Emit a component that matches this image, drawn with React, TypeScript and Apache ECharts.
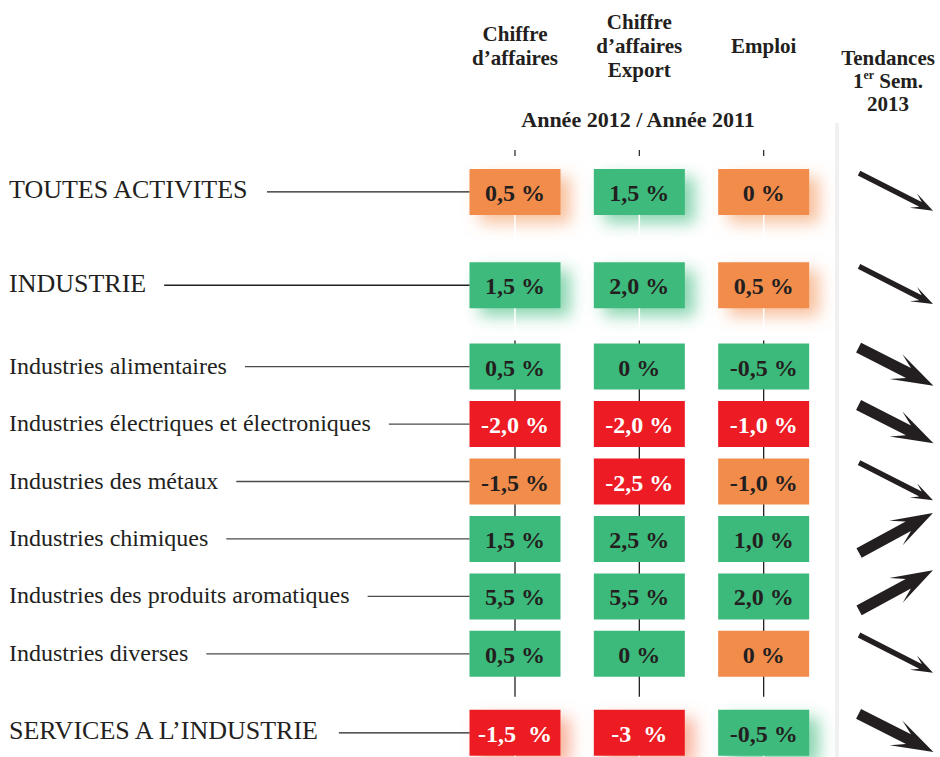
import React, { useEffect, useRef } from "react";
import * as echarts from "echarts";

// ---------------- DATA ----------------
const ROW_LABELS = [
  "TOUTES ACTIVITES",
  "INDUSTRIE",
  "Industries alimentaires",
  "Industries électriques et électroniques",
  "Industries des métaux",
  "Industries chimiques",
  "Industries des produits aromatiques",
  "Industries diverses",
  "SERVICES A L’INDUSTRIE",
];
const ROW_LEVELS = ["main", "main", "sub", "sub", "sub", "sub", "sub", "sub", "main"];

const COLUMN_HEADERS = [
  "Chiffre\nd’affaires",
  "Chiffre\nd’affaires\nExport",
  "Emploi",
  "Tendances\n1er Sem.\n2013",
];
const PERIOD_LABEL = "Année 2012 / Année 2011";

const CHIFFRE_AFFAIRES = ["0,5 %", "1,5 %", "0,5 %", "-2,0 %", "-1,5 %", "1,5 %", "5,5 %", "0,5 %", "-1,5  %"];
const CHIFFRE_AFFAIRES_STATUS = ["o", "g", "g", "r", "o", "g", "g", "g", "r"];

const CHIFFRE_AFFAIRES_EXPORT = ["1,5 %", "2,0 %", "0 %", "-2,0 %", "-2,5 %", "2,5 %", "5,5 %", "0 %", "-3  %"];
const CHIFFRE_AFFAIRES_EXPORT_STATUS = ["g", "g", "g", "r", "r", "g", "g", "g", "r"];

const EMPLOI = ["0 %", "0,5 %", "-0,5 %", "-1,0 %", "-1,0 %", "1,0 %", "2,0 %", "0 %", "-0,5 %"];
const EMPLOI_STATUS = ["o", "o", "g", "r", "o", "g", "g", "o", "g"];

const TREND_DIRECTION = ["down", "down", "down", "down", "down", "up", "up", "down", "down"];
const TREND_STRENGTH = ["weak", "weak", "strong", "strong", "weak", "strong", "strong", "weak", "strong"];

// ---------------- LAYOUT / STYLE ----------------
const W = 940;
const H = 757;
const SERIF = "'Liberation Serif', 'Times New Roman', serif";
const DARK = "#231F20";
const STATUS_FILL: Record<string, string> = { g: "#3CBA7B", o: "#F28C4B", r: "#ED1C24" };
const STATUS_TEXT: Record<string, string> = { g: DARK, o: DARK, r: "#FFFFFF" };
const STATUS_GLOW: Record<string, string> = {
  g: "rgba(60,186,123,0.6)",
  o: "rgba(242,140,75,0.55)",
  r: "rgba(244,120,80,0.55)",
};
const BOX_W = 91;
const BOX_H = 46;
const LABEL_X = 9;
const LEADER_GAP = 18;
const ARROW_DX = 8;
const GAP_UNITS: Record<string, number> = {
  "main-main": 19.5,
  "main-sub": 17,
  "sub-sub": 12,
  "sub-main": 16.5,
};

const ROW_POS: number[] = [];
{
  let acc = 0;
  ROW_LEVELS.forEach((lv, i) => {
    if (i > 0) acc += GAP_UNITS[`${ROW_LEVELS[i - 1]}-${lv}`];
    ROW_POS.push(acc);
  });
}
const Y_MIN = -8.75;
const Y_MAX = ROW_POS[ROW_POS.length - 1] + 4;

const VALUE_COLUMNS = [CHIFFRE_AFFAIRES, CHIFFRE_AFFAIRES_EXPORT, EMPLOI];
const STATUS_COLUMNS = [CHIFFRE_AFFAIRES_STATUS, CHIFFRE_AFFAIRES_EXPORT_STATUS, EMPLOI_STATUS];

const ARROW_STYLE: Record<string, { length: number; shaft: number; notch: number; barb: number; head: number }> = {
  weak: { length: 83, shaft: 2.7, notch: 14, barb: 22, head: 8 },
  strong: { length: 84, shaft: 5.5, notch: 28, barb: 42, head: 14 },
};
const ARROW_ANGLE: Record<string, number> = { down: (27 * Math.PI) / 180, up: (-28.5 * Math.PI) / 180 };
const ARROW_SHIFT_Y: Record<string, number> = { down: 0, up: -6 };

let measureCtx: CanvasRenderingContext2D | null = null;
function textWidth(text: string, font: string): number {
  if (!measureCtx) measureCtx = document.createElement("canvas").getContext("2d");
  if (!measureCtx) return text.length * 10;
  measureCtx.font = font;
  return measureCtx.measureText(text).width;
}

function arrowPoints(cx: number, cy: number, dir: string, strength: string) {
  const s = ARROW_STYLE[strength];
  const a = ARROW_ANGLE[dir];
  const L = s.length;
  const local = [
    [-L / 2, -s.shaft],
    [L / 2 - s.notch, -s.shaft],
    [L / 2 - s.barb, -s.head],
    [L / 2, 0],
    [L / 2 - s.barb, s.head],
    [L / 2 - s.notch, s.shaft],
    [-L / 2, s.shaft],
  ];
  const c = Math.cos(a);
  const sn = Math.sin(a);
  return local.map(([x, y]) => [cx + x * c - y * sn, cy + x * sn + y * c]);
}

function buildOption(): any {
  const firstSub = ROW_LEVELS.indexOf("sub");
  const lastSub = ROW_LEVELS.lastIndexOf("sub");

  const cellData: number[][] = [];
  VALUE_COLUMNS.forEach((col, c) => col.forEach((_, r) => cellData.push([c, ROW_POS[r], r])));

  return {
    animation: false,
    backgroundColor: "#ffffff",
    grid: { left: 515, right: 52, top: 150, bottom: 5, containLabel: false, outerBoundsMode: "none" },
    xAxis: {
      type: "category",
      position: "top",
      boundaryGap: false,
      data: COLUMN_HEADERS.map((h, i) =>
        i === 3 ? { value: h, textStyle: { verticalAlign: "top", lineHeight: 23 } } : h
      ),
      axisLine: { show: false },
      axisTick: { show: false },
      axisLabel: {
        interval: 0,
        margin: 104,
        verticalAlign: "middle",
        fontSize: 21,
        fontWeight: "bold",
        fontFamily: SERIF,
        color: DARK,
        lineHeight: 24,
        formatter: (v: string) => v.replace("1er", "1{sup|er}"),
        rich: {
          sup: {
            fontSize: 12,
            fontWeight: "bold",
            fontFamily: SERIF,
            color: DARK,
            verticalAlign: "top",
            lineHeight: 14,
          },
        },
      },
      splitLine: { show: false },
    },
    yAxis: { type: "value", inverse: true, min: Y_MIN, max: Y_MAX, show: false },
    graphic: [
      {
        type: "rect",
        z: -10,
        shape: { x: 835, y: 123, width: 4, height: H - 123 },
        style: { fill: "#f1f1f1" },
      },
      {
        type: "text",
        x: 638,
        y: 119,
        style: {
          text: PERIOD_LABEL,
          align: "center",
          verticalAlign: "middle",
          fontSize: 22,
          fontWeight: "bold",
          fontFamily: SERIF,
          fill: DARK,
        },
      },
    ],
    series: [
      {
        type: "custom",
        name: "connectors",
        z: 1,
        clip: false,
        silent: true,
        data: [0, 1, 2].map((c) => [c, ROW_POS[firstSub], ROW_POS[lastSub]]),
        renderItem: (_p: any, api: any) => {
          const top = api.coord([api.value(0), Y_MIN]);
          const a = api.coord([api.value(0), api.value(1)]);
          const b = api.coord([api.value(0), api.value(2)]);
          return {
            type: "group",
            children: [
              {
                type: "line",
                shape: { x1: top[0], y1: top[1], x2: top[0], y2: top[1] + 6 },
                style: { stroke: DARK, lineWidth: 1.2 },
              },
              {
                type: "line",
                shape: { x1: a[0], y1: a[1] - 26, x2: b[0], y2: b[1] + 43 },
                style: { stroke: DARK, lineWidth: 1.3 },
              },
            ],
          };
        },
      },
      {
        type: "custom",
        name: "cells",
        z: 2,
        clip: false,
        silent: true,
        data: cellData,
        renderItem: (_p: any, api: any) => {
          const c = api.value(0);
          const r = api.value(2);
          const [cx, cy] = api.coord([c, api.value(1)]);
          const status = STATUS_COLUMNS[c][r];
          const glow = ROW_LEVELS[r] === "main";
          const children: any[] = [
            {
              type: "rect",
              shape: { x: cx - BOX_W / 2, y: cy - BOX_H / 2, width: BOX_W, height: BOX_H },
              style: glow
                ? {
                    fill: STATUS_FILL[status],
                    shadowBlur: 16,
                    shadowColor: STATUS_GLOW[status],
                    shadowOffsetX: 10,
                    shadowOffsetY: 8,
                  }
                : { fill: STATUS_FILL[status] },
            },
          ];
          if (glow) {
            children.push({
              type: "line",
              shape: { x1: cx, y1: cy + BOX_H / 2, x2: cx, y2: cy + BOX_H / 2 + 25 },
              style: { stroke: "#ffffff", lineWidth: 1.5 },
            });
          }
          children.push({
            type: "text",
            x: cx,
            y: cy + 1,
            style: {
              text: VALUE_COLUMNS[c][r],
              fill: STATUS_TEXT[status],
              fontSize: 24,
              fontWeight: "bold",
              fontFamily: SERIF,
              align: "center",
              verticalAlign: "middle",
            },
          });
          return { type: "group", children };
        },
      },
      {
        type: "custom",
        name: "rows",
        z: 2,
        clip: false,
        silent: true,
        data: ROW_LABELS.map((_, r) => [0, ROW_POS[r], r]),
        renderItem: (_p: any, api: any) => {
          const r = api.value(2);
          const [bx, cy] = api.coord([0, api.value(1)]);
          const main = ROW_LEVELS[r] === "main";
          const size = main ? 26 : 24;
          const w = textWidth(ROW_LABELS[r], `${size}px 'Liberation Serif'`);
          return {
            type: "group",
            children: [
              {
                type: "text",
                x: LABEL_X,
                y: cy - (main ? 2 : 1),
                style: {
                  text: ROW_LABELS[r],
                  fill: DARK,
                  fontSize: size,
                  fontFamily: SERIF,
                  align: "left",
                  verticalAlign: "middle",
                },
              },
              {
                type: "line",
                shape: { x1: LABEL_X + w + LEADER_GAP, y1: cy, x2: bx - BOX_W / 2, y2: cy },
                style: { stroke: main ? DARK : "#4a4a4a", lineWidth: 1.3 },
              },
            ],
          };
        },
      },
      {
        type: "custom",
        name: "trends",
        z: 2,
        clip: false,
        silent: true,
        data: TREND_DIRECTION.map((_, r) => [3, ROW_POS[r], r]),
        renderItem: (_p: any, api: any) => {
          const r = api.value(2);
          const [cx, cy] = api.coord([3, api.value(1)]);
          const dir = TREND_DIRECTION[r];
          return {
            type: "polygon",
            shape: {
              points: arrowPoints(cx + ARROW_DX, cy + ARROW_SHIFT_Y[dir], dir, TREND_STRENGTH[r]),
            },
            style: { fill: DARK },
          };
        },
      },
    ],
  };
}

export default function App() {
  const ref = useRef<HTMLDivElement>(null);
  useEffect(() => {
    if (!ref.current) return;
    const chart = echarts.init(ref.current, undefined, { renderer: "svg", width: W, height: H });
    chart.setOption(buildOption());
    return () => chart.dispose();
  }, []);
  return (
    <div
      ref={ref}
      style={{ position: "absolute", left: 0, top: 0, width: W, height: H, background: "#fff" }}
    />
  );
}
